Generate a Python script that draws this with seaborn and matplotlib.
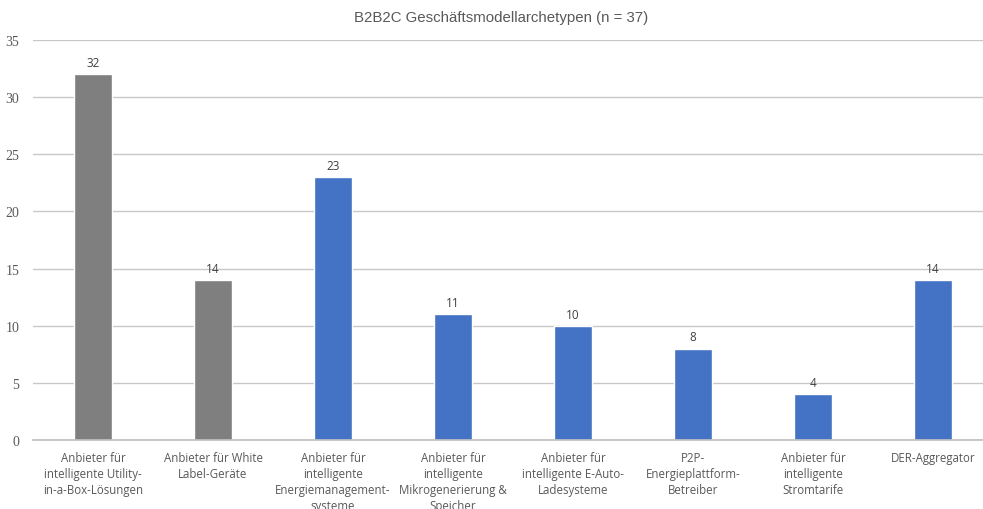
import matplotlib
matplotlib.use("Agg")
import matplotlib.pyplot as plt
import seaborn as sns
import pandas as pd

categories = [
    "Anbieter für\nintelligente Utility-\nin-a-Box-Lösungen",
    "Anbieter für White\nLabel-Geräte",
    "Anbieter für\nintelligente\nEnergiemanagement-\nsysteme",
    "Anbieter für\nintelligente\nMikrogenerierung &\nSpeicher",
    "Anbieter für\nintelligente E-Auto-\nLadesysteme",
    "P2P-\nEnergieplattform-\nBetreiber",
    "Anbieter für\nintelligente\nStromtarife",
    "DER-Aggregator",
]
values = [32, 14, 23, 11, 10, 8, 4, 14]
groups = ["grau", "grau", "blau", "blau", "blau", "blau", "blau", "blau"]
palette = {"grau": "#7F7F7F", "blau": "#4472C4"}
yticks = [0, 5, 10, 15, 20, 25, 30, 35]
title = "B2B2C Geschäftsmodellarchetypen (n = 37)"

df = pd.DataFrame({"cat": categories, "val": values, "grp": groups})

sns.set_style("white")
fig = plt.figure(figsize=(9.83, 5.10), dpi=100)
ax = fig.add_axes([0.0336, 0.1353, 0.9664, 0.7843])

sns.barplot(data=df, x="cat", y="val", hue="grp", palette=palette,
            dodge=False, width=0.31, legend=False, ax=ax, saturation=1)

ax.set_ylim(0, 35)
ax.set_xlim(-0.5, 7.5 - 10 / 120)
ax.set_yticks(yticks)
ax.set_yticklabels([str(t) for t in yticks], family="Liberation Serif",
                   fontsize=10, color="#595959")
ax.tick_params(axis="y", length=0, pad=10)
ax.tick_params(axis="x", length=0, pad=8)
for lbl in ax.get_xticklabels():
    lbl.set_family("Open Sans")
    lbl.set_fontsize(8.3)
    lbl.set_color("#595959")
    lbl.set_verticalalignment("top")
    lbl.set_linespacing(1.3)
ax.grid(axis="y", color="#C8C8C8", linewidth=1)
ax.set_axisbelow(True)
for s in ["top", "right", "left"]:
    ax.spines[s].set_visible(False)
ax.spines["bottom"].set_color("#BFBFBF")
ax.spines["bottom"].set_linewidth(1.2)
ax.set_xlabel("")
ax.set_ylabel("")

for i, v in enumerate(values):
    ax.text(i, v + 0.45, str(v), ha="center", va="bottom",
            family="Open Sans", fontsize=8.5, color="#404040")

fig.text(0.51, 0.965, title, ha="center", va="center",
         family="Liberation Sans", fontsize=10.8, color="#595959")

fig.savefig("out.png", dpi=100)
